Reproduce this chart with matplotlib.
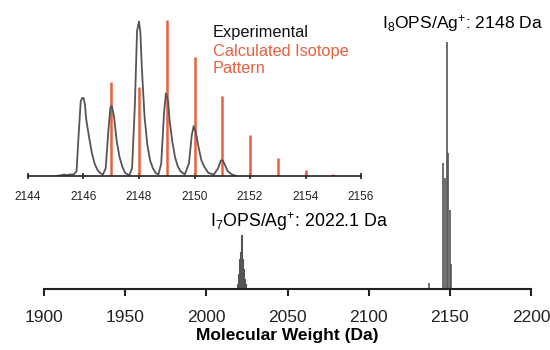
import numpy as np
import matplotlib
matplotlib.use('Agg')
import matplotlib.pyplot as plt

plt.rcParams['font.family'] = ['Liberation Sans', 'DejaVu Sans']
plt.rcParams['mathtext.fontset'] = 'custom'
plt.rcParams['mathtext.rm'] = 'Liberation Sans'
plt.rcParams['mathtext.it'] = 'Liberation Sans'

# full spectrum (relative intensity)
i7_mass = [2019.5, 2020.3, 2021.0, 2021.6, 2022.2, 2022.8, 2023.4, 2024.0, 2024.6]
i7_int = [0.02, 0.06, 0.12, 0.15, 0.22, 0.12, 0.08, 0.04, 0.02]
i8_mass = [2137.0, 2146.0, 2147.0, 2148.0, 2149.0, 2150.0, 2151.0]
i8_int = [0.025, 0.51, 0.45, 1.0, 0.55, 0.32, 0.10]

# inset: experimental profile
exp_mass = [2145.0, 2145.2, 2145.3, 2145.4, 2145.5, 2145.65,
            2145.75, 2145.82, 2145.9, 2145.95, 2146.0, 2146.05, 2146.1, 2146.2, 2146.3, 2146.4, 2146.5, 2146.6, 2146.7,
            2146.8, 2146.9, 2146.97, 2147.02, 2147.1, 2147.2, 2147.3, 2147.4, 2147.5, 2147.65,
            2147.75, 2147.85, 2147.93, 2148.0, 2148.05, 2148.1, 2148.2, 2148.3, 2148.4, 2148.5, 2148.6, 2148.7,
            2148.8, 2148.9, 2148.97, 2149.05, 2149.1, 2149.2, 2149.3, 2149.4, 2149.5, 2149.65,
            2149.8, 2149.9, 2149.97, 2150.05, 2150.15, 2150.25, 2150.35, 2150.5, 2150.7,
            2150.85, 2150.95, 2151.02, 2151.1, 2151.2, 2151.35, 2151.5]
exp_int = [0.0, 0.005, 0.01, 0.005, 0.01, 0.01,
           0.03, 0.25, 0.48, 0.50, 0.50, 0.46, 0.36, 0.25, 0.15, 0.08, 0.04, 0.02, 0.01,
           0.05, 0.30, 0.44, 0.45, 0.38, 0.22, 0.12, 0.06, 0.02, 0.005,
           0.05, 0.45, 0.93, 0.99, 0.92, 0.70, 0.38, 0.20, 0.10, 0.05, 0.02, 0.01,
           0.08, 0.40, 0.53, 0.48, 0.36, 0.22, 0.12, 0.06, 0.03, 0.01,
           0.08, 0.26, 0.32, 0.28, 0.18, 0.10, 0.06, 0.02, 0.01,
           0.05, 0.10, 0.10, 0.07, 0.03, 0.01, 0.0]

# inset: calculated isotope pattern
calc_mass = [2147, 2148, 2149, 2150, 2151, 2152, 2153, 2154, 2155]
calc_int = [0.60, 0.57, 1.0, 0.76, 0.51, 0.26, 0.115, 0.04, 0.01]

red = '#e8603f'
gray = '#555555'

fig = plt.figure(figsize=(5.5, 3.5), dpi=100)

# main axes
ax = fig.add_axes([0.08, 0.1743, 0.8855, 0.7057])
ax.vlines(i7_mass, 0, i7_int, color=gray, lw=1.5)
ax.vlines(i8_mass, 0, i8_int, color=gray, lw=1.2)
ax.set_xlim(1900, 2200)
ax.set_ylim(0, 1.0)
ax.set_xticks([1900, 1950, 2000, 2050, 2100, 2150, 2200])
ax.tick_params(axis='x', direction='out', length=5, width=1.5, pad=10, labelsize=12.5, colors='#222222')
ax.set_yticks([])
for s in ['left', 'right', 'top']:
    ax.spines[s].set_visible(False)
ax.spines['bottom'].set_linewidth(1.5)
ax.spines['bottom'].set_color('#222222')
ax.set_xlabel('Molecular Weight (Da)', fontsize=12.5, fontweight='bold', labelpad=2)
ax.patch.set_alpha(0)

ax.text(2108.5, 1.073, r'I$_8$OPS/Ag$^{+}$: 2148 Da', fontsize=12.6, va='center', ha='left', clip_on=False)
ax.text(2002.5, 0.271, r'I$_7$OPS/Ag$^{+}$: 2022.1 Da', fontsize=12.8, va='center', ha='left')

# inset
ins = fig.add_axes([0.0509, 0.497, 0.6055, 0.446])
ins.vlines(calc_mass, 0, calc_int, color=red, lw=1.8)
ins.plot(exp_mass, exp_int, color=gray, lw=1.3)
ins.set_xlim(2144, 2156)
ins.set_ylim(0, 1.0)
ins.set_xticks([2144, 2146, 2148, 2150, 2152, 2154, 2156])
ins.tick_params(axis='x', direction='inout', length=5, width=1.2, pad=8, labelsize=8.5, colors='#222222')
ins.set_yticks([])
for s in ['left', 'right', 'top']:
    ins.spines[s].set_visible(False)
ins.spines['bottom'].set_linewidth(1.2)
ins.spines['bottom'].set_color('#222222')
ins.patch.set_alpha(0)

ins.text(2150.67, 0.917, 'Experimental', fontsize=11.8, color='#111111', va='center')
ins.text(2150.67, 0.80, 'Calculated Isotope', fontsize=11.8, color=red, va='center')
ins.text(2150.67, 0.686, 'Pattern', fontsize=11.8, color=red, va='center')

fig.savefig('out.png', dpi=100)
